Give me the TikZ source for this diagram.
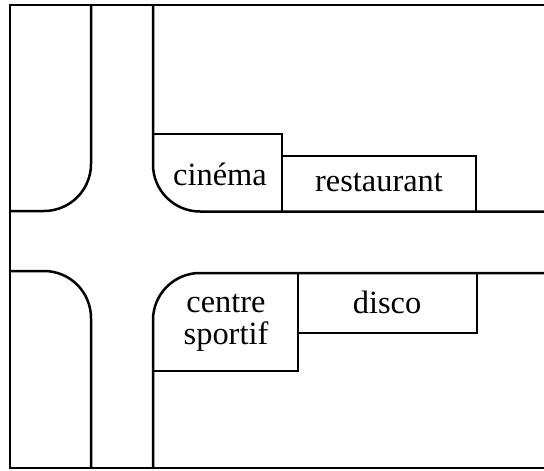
\documentclass[tikz,border=0pt]{standalone}
\usepackage{fontspec}
\setmainfont{Liberation Serif}
\begin{document}
\begin{tikzpicture}[x=0.5pt,y=-0.5pt,line width=1.25pt,
    street/.style={rounded corners=23.5pt},
    label/.style={inner sep=0pt,font=\fontsize{16.2}{16}\selectfont}]
    \useasboundingbox (0,0) rectangle (544,470);
    % frame
    \draw (544,5) -- (10,5) -- (10,468) -- (544,468);
    % street corners
    \draw[street] (91,5) -- (91,211) -- (10,211);
    \draw[street] (10,271) -- (91,271) -- (91,468);
    \draw[street] (153,5) -- (153,211.5) -- (544,211.5);
    \draw[street] (544,273) -- (153,273) -- (153,468);
    % buildings
    \foreach \a/\b/\c/\d in {153/134/282/211.5, 282/156/476/211.5,
        153/371/298/273, 298/333/477/273} {
      \draw (\a,\b) -- (\c,\b) -- (\c,\d);
    }
    \node[label,anchor=base] (cinema) at (220,185) {cinéma};
    \node[label,anchor=base] (restaurant) at (379,191) {restaurant};
    \node[label,anchor=base] (disco) at (387,313) {disco};
    \node[label,align=center] (sport) at (226,323) {centre\\sportif};
\end{tikzpicture}
\end{document}
